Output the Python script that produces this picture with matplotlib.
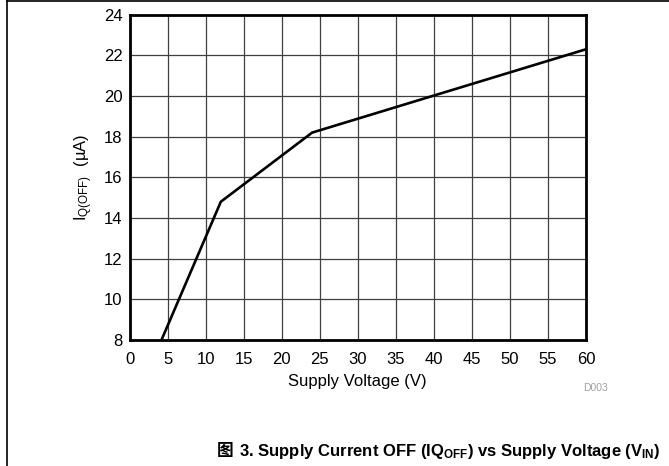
import matplotlib.pyplot as plt
from matplotlib.lines import Line2D

plt.rcParams['font.family'] = ['Liberation Sans', 'DejaVu Sans']
plt.rcParams['mathtext.fontset'] = 'custom'
plt.rcParams['mathtext.rm'] = 'Liberation Sans'
plt.rcParams['mathtext.it'] = 'Liberation Sans:italic'
plt.rcParams['mathtext.bf'] = 'Liberation Sans:bold'

# data
supply_voltage = [4.2, 12, 24, 60]
iq_off = [8.0, 14.8, 18.2, 22.3]

x_ticks = list(range(0, 61, 5))
y_ticks = list(range(8, 25, 2))

fig = plt.figure(figsize=(6.69, 4.66), dpi=100)
ax = fig.add_axes([0.1936, 0.2704, 0.876 - 0.1936, 0.9685 - 0.2704])

ax.plot(supply_voltage, iq_off, color="black", lw=1.9, solid_joinstyle="miter", zorder=3)
ax.set_xlim(0, 60)
ax.set_ylim(8, 24)
ax.set_xticks(x_ticks)
ax.set_yticks(y_ticks)
ax.grid(True, color="#404040", lw=0.9)
ax.tick_params(length=0, labelsize=12)
ax.tick_params(axis="x", pad=9)
ax.tick_params(axis="y", pad=5)
for s in ax.spines.values():
    s.set_linewidth(2.0)

ax.set_xlabel("Supply Voltage (V)", fontsize=12, labelpad=5)
ax.set_ylabel(r"I$_{\mathrm{Q(OFF)}}$  (µA)", fontsize=12, labelpad=6)

fig.text(596 / 669, 1 - 388 / 466, "D003", fontsize=7.5, color="#a0a0a0", ha="center", va="center")

# page-like border (top and left)
fig.add_artist(Line2D([7 / 669, 7 / 669], [0, 1 - 1 / 466], color="black", lw=1.2, transform=fig.transFigure))
fig.add_artist(Line2D([7 / 669, 1], [1 - 1 / 466, 1 - 1 / 466], color="black", lw=1.2, transform=fig.transFigure))

# caption: CJK glyph + bold text with subscripts
y_cap = 1 - 456 / 466
t1 = fig.text(217 / 669, y_cap, "图", fontsize=12, fontweight="bold",
              family=["Noto Sans CJK SC", "DejaVu Sans"], ha="left", va="baseline")
fig.canvas.draw()
bb = t1.get_window_extent()
x2 = (bb.x1 + 5) / fig.bbox.width
fig.text(x2, y_cap,
         r"3. Supply Current OFF (IQ$_{\mathbf{OFF}}$) vs Supply Voltage (V$_{\mathbf{IN}}$)",
         fontsize=12, fontweight="bold", ha="left", va="baseline")

fig.savefig("out.png", dpi=100)
